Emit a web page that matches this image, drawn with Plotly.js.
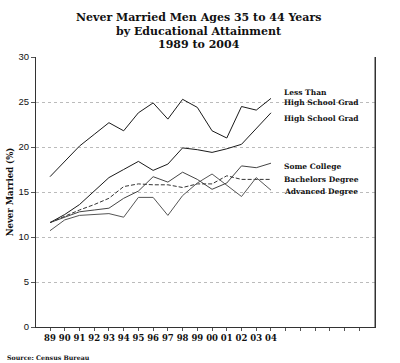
<!DOCTYPE html>
<html>
<head>
<meta charset="utf-8">
<script src="https://cdn.plot.ly/plotly-3.0.1.min.js"></script>
<style>html,body{margin:0;padding:0;background:#fff;}#chart{width:400px;height:363px;}</style>
</head>
<body>
<div id="chart"></div>
<script>
// Years (tick labels)
var years = ["89","90","91","92","93","94","95","96","97","98","99","00","01","02","03","04"];

// Series values (% never married)
var lessThanHS   = [16.7,18.4,20.1,21.4,22.7,21.8,23.8,24.9,23.1,25.3,24.4,21.8,21.0,24.5,24.1,25.4];
var hsGrad       = [11.6,12.5,13.6,15.1,16.6,17.5,18.4,17.4,18.1,19.9,19.7,19.4,19.8,20.3,22.0,23.8];
var someCollege  = [11.6,12.2,12.8,13.0,13.2,14.3,15.1,16.7,16.1,17.2,16.4,15.3,16.0,17.9,17.7,18.2];
var bachelors    = [11.6,12.3,13.0,13.6,14.3,15.6,15.9,15.8,15.8,15.5,15.9,15.9,16.8,16.4,16.4,16.4];
var advanced     = [10.7,11.9,12.4,12.5,12.6,12.2,14.4,14.4,12.4,14.6,16.0,17.0,15.8,14.5,16.6,15.2];

var titleLines = ["Never Married Men Ages 35 to 44 Years", "by Educational Attainment", "1989 to 2004"];

var seriesNames = ["Less Than<br>High School Grad","High School Grad","Some College","Bachelors Degree","Advanced Degree"];
var seriesData = [lessThanHS, hsGrad, someCollege, bachelors, advanced];
var seriesColors = ["#1a1a1a","#1a1a1a","#444","#333","#555"];
var seriesDash = ["solid","solid","solid","4px,2px","solid"];

var idx = years.map(function(_, i){ return i; });
var traces = seriesData.map(function(vals, k){
  return {x: idx, y: vals, type: "scatter", mode: "lines", name: seriesNames[k],
          line: {color: seriesColors[k], width: 1, dash: seriesDash[k]}, hoverinfo: "skip"};
});

// tick positions: 22 slots, labels only for the 16 years
var tickvals = [], ticktext = [];
for (var i = 0; i < 22; i++) { tickvals.push(i); ticktext.push(i < years.length ? years[i] : ""); }

var serif = "DejaVu Serif, serif";
var labelY = [25.5, 23.2, 17.8, 16.4, 15.1];
var annotations = seriesNames.map(function(n, k){
  return {x: 15.75, y: labelY[k], xref: "x", yref: "y", text: n, showarrow: false,
          xanchor: "left", yanchor: "middle", align: "left",
          font: {family: serif, size: 7.5, color: "#111", weight: "bold"}};
});
var titleShift = [40, 26, 13];
titleLines.forEach(function(t, k){
  annotations.push({x: 0.48, y: 1, xref: "paper", yref: "paper", yshift: titleShift[k],
    text: t, showarrow: false, xanchor: "center", yanchor: "middle",
    font: {family: serif, size: 11, color: "#111", weight: "bold"}});
});
annotations.push({x: 0, y: 0, xref: "paper", yref: "paper", xshift: -31, yshift: -30,
  text: "Source: Census Bureau", showarrow: false, xanchor: "left", yanchor: "middle",
  font: {family: serif, size: 6.3, color: "#111", weight: "bold"}});

var layout = {
  width: 400, height: 363,
  margin: {l: 36, r: 25, t: 57, b: 36},
  paper_bgcolor: "#fff", plot_bgcolor: "#fff",
  showlegend: false,
  xaxis: {range: [-0.95, 22.06], tickmode: "array", tickvals: tickvals, ticktext: ticktext,
          showgrid: false, zeroline: false, showline: true, linecolor: "#333", linewidth: 1,
          mirror: false, ticks: "outside", ticklen: 3, tickcolor: "#555",
          tickfont: {family: serif, size: 8.5, color: "#111", weight: "bold"}},
  yaxis: {range: [0, 30], tickvals: [0,5,10,15,20,25,30], showgrid: true,
          gridcolor: "#bbb", griddash: "dot", gridwidth: 1, zeroline: false,
          showline: true, linecolor: "#333", linewidth: 1, mirror: true,
          ticks: "outside", ticklen: 4, tickcolor: "#555",
          tickfont: {family: "Liberation Sans, sans-serif", size: 9.5, color: "#111"},
          title: {text: "Never Married (%)", standoff: 3,
                  font: {family: serif, size: 8.5, color: "#111", weight: "bold"}}},
  annotations: annotations,
  shapes: [{type: "line", xref: "paper", yref: "paper", x0: 1, x1: 1, y0: 0, y1: 1,
            line: {color: "#333", width: 1}}]
};

Plotly.newPlot("chart", traces, layout, {displayModeBar: false, staticPlot: true});
</script>
</body>
</html>
